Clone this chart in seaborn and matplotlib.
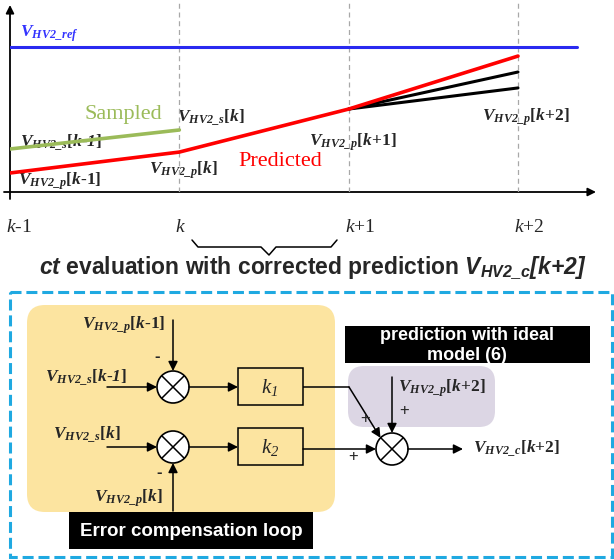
import numpy as np
import pandas as pd
import matplotlib
matplotlib.use("Agg")
import matplotlib.pyplot as plt
import seaborn as sns
from matplotlib.patches import FancyBboxPatch, Rectangle, Circle

# time steps k-1 .. k+2 and voltage trajectories (arbitrary units)
steps = [0, 1, 2, 3]
step_labels = [r'$\mathit{k}$-1', r'$\mathit{k}$', r'$\mathit{k}$+1', r'$\mathit{k}$+2']
predicted = [0.99, 2.08, 4.32, 7.08]
sampled_steps = [0, 1]
sampled = [2.24, 3.23]
alt_steps = [2, 3]
alt_upper = [4.32, 6.25]
alt_lower = [4.32, 5.42]
ref_steps = [0, 3.35]
ref_value = 7.55

sns.set_theme(style='white')
plt.rcParams['font.family'] = ['Liberation Serif', 'DejaVu Serif']
plt.rcParams['mathtext.fontset'] = 'custom'
plt.rcParams['mathtext.rm'] = 'Liberation Serif'
plt.rcParams['mathtext.it'] = 'Liberation Serif:italic'
plt.rcParams['mathtext.cal'] = 'Liberation Serif:italic'
plt.rcParams['mathtext.bf'] = 'Liberation Serif:bold'
plt.rcParams['mathtext.bfit'] = 'Liberation Serif:italic:bold'
plt.rcParams['mathtext.sf'] = 'Liberation Sans:italic:bold'

W, H = 614, 560
fig = plt.figure(figsize=(W / 100, H / 100), dpi=100)
fig.patch.set_facecolor('white')
base = fig.add_axes([0, 0, 1, 1])
base.set_xlim(0, W)
base.set_ylim(H, 0)
base.axis('off')


def vlab(sub, idx):
    # V_{HV2_x}[idx] in bold italic Times-like style
    return r'$\mathbfit{V}_{\mathbfit{HV2\_' + sub + r'}}$[' + idx + ']'


# ---------------- top chart ----------------
ax = fig.add_axes([10 / W, (H - 192) / H, 570 / W, 192 / H])
ax.patch.set_alpha(0)

for s in steps[1:]:
    ax.axvline(s, color='#A8A8A8', ls=(0, (4, 3)), lw=0.9, zorder=1)

sns.lineplot(x=ref_steps, y=[ref_value] * len(ref_steps), color='#2A2AF0', lw=2.2, ax=ax)
sns.lineplot(x=sampled_steps, y=sampled, color='#9BBB59', lw=2.6, ax=ax)
sns.lineplot(x=alt_steps, y=alt_upper, color='black', lw=2.2, ax=ax)
sns.lineplot(x=alt_steps, y=alt_lower, color='black', lw=2.2, ax=ax)
sns.lineplot(x=steps, y=predicted, color='#FF0000', lw=2.6, ax=ax)
ax.set_xlim(0, 570 * 3 / 508)
ax.set_ylim(0, 10)
ax.axis('off')

for s, lab in zip(steps, step_labels):
    ax.annotate(lab, xy=(s, 0), xycoords='data', xytext=(-4, -35), textcoords='offset pixels',
                ha='left', va='center', fontsize=14)

arrow_kw = dict(arrowstyle='-|>', color='black', lw=1.3, mutation_scale=12, shrinkA=0, shrinkB=0)
base.annotate('', xy=(10, 5), xytext=(10, 199), arrowprops=arrow_kw)
base.annotate('', xy=(596, 192), xytext=(4, 192), arrowprops=arrow_kw)

lab_kw = dict(ha='left', va='center', fontsize=12.5, fontweight='bold')
base.text(20, 34, r'$\mathbfit{V}_{\mathbfit{HV2\_ref}}$', color='#3333FF', **lab_kw)
base.text(85, 115, 'Sampled', color='#9BBB59', ha='left', va='center', fontsize=16)
base.text(238, 162, 'Predicted', color='#FF0000', ha='left', va='center', fontsize=16)
base.text(177, 118, vlab('s', r'$\mathbfit{k}$'), **lab_kw)
base.text(20, 143, vlab('s', r'$\mathbfit{k}$-$\mathbfit{1}$'), **lab_kw)
base.text(18, 181, vlab('p', r'$\mathbfit{k}$-1'), **lab_kw)
base.text(149, 170, vlab('p', r'$\mathbfit{k}$'), **lab_kw)
base.text(309, 142, vlab('p', r'$\mathbfit{k}$+1'), **lab_kw)
base.text(482, 117, vlab('p', r'$\mathbfit{k}$+2'), **lab_kw)

# brace under k .. k+1
bx = [192, 198, 261, 269, 276, 331, 337]
by = [240, 247, 247, 255, 247, 247, 240]
base.plot(bx, by, color='black', lw=1.1)

base.text(313, 268, r'$\mathsf{ct}$ evaluation with corrected prediction $\mathsf{V_{HV2\_c}[k{+}2]}$',
          family='Liberation Sans', fontweight='bold', fontsize=16.5, ha='center', va='center')

# ---------------- block diagram ----------------
base.add_patch(Rectangle((10, 292), 602, 265, fill=False, ec='#1FA9E1', lw=2.2,
                         ls=(0, (3.6, 1.6))))
base.add_patch(FancyBboxPatch((27, 305), 308, 207, boxstyle='round,pad=0,rounding_size=18',
                              fc='#FCE4A0', ec='none'))
base.add_patch(FancyBboxPatch((348, 366), 147, 61, boxstyle='round,pad=0,rounding_size=16',
                              fc='#DCD6E4', ec='none'))
base.add_patch(Rectangle((345, 326), 245, 37, fc='black', ec='none'))
base.text(467, 335, 'prediction with ideal', color='white', family='Liberation Sans',
          fontweight='bold', fontsize=13, ha='center', va='center')
base.text(467, 355, 'model (6)', color='white', family='Liberation Sans',
          fontweight='bold', fontsize=13, ha='center', va='center')
base.add_patch(Rectangle((69, 512), 244, 37, fc='black', ec='none'))
base.text(191, 531, 'Error compensation loop', color='white', family='Liberation Sans',
          fontweight='bold', fontsize=13.5, ha='center', va='center')

R = 16
junctions = [(173, 387), (173, 447), (392, 449)]
for cx, cy in junctions:
    base.add_patch(Circle((cx, cy), R, fc='white', ec='black', lw=1.2, zorder=3))
    d = R * 0.707
    base.plot([cx - d, cx + d], [cy - d, cy + d], color='black', lw=1.1, zorder=4)
    base.plot([cx - d, cx + d], [cy + d, cy - d], color='black', lw=1.1, zorder=4)

blocks = [(238, 368, r'$\mathcal{k}_{\mathcal{1}}$'), (238, 428, r'$\mathcal{k}_{\mathcal{2}}$')]
for x0, y0, lab in blocks:
    base.add_patch(Rectangle((x0, y0), 65, 37, fc='#FCE4A0', ec='black', lw=1.1, zorder=3))
    base.text(x0 + 32, y0 + 19, lab, fontsize=15, ha='center', va='center', zorder=4)

ak = dict(arrowstyle='-|>', color='black', lw=1.1, mutation_scale=14, shrinkA=0, shrinkB=0)
# junction 1 inputs
base.annotate('', xy=(173, 387 - R), xytext=(173, 320), arrowprops=ak)
base.annotate('', xy=(173 - R, 387), xytext=(107, 387), arrowprops=ak)
base.annotate('', xy=(238, 387), xytext=(173 + R, 387), arrowprops=ak)
# junction 2 inputs
base.annotate('', xy=(173 - R, 447), xytext=(107, 447), arrowprops=ak)
base.annotate('', xy=(173, 447 + R), xytext=(173, 511), arrowprops=ak)
base.annotate('', xy=(238, 447), xytext=(173 + R, 447), arrowprops=ak)
# to junction 3
base.plot([303, 349], [387, 387], color='black', lw=1.1)
base.annotate('', xy=(392 - R * 0.72, 449 - R * 0.7), xytext=(349, 387), arrowprops=ak)
base.annotate('', xy=(392, 449 - R), xytext=(392, 377), arrowprops=ak)
base.annotate('', xy=(392 - R, 449), xytext=(303, 449), arrowprops=ak)
base.annotate('', xy=(463, 449), xytext=(392 + R, 449), arrowprops=ak)

dl = dict(ha='left', va='center', fontsize=12.5, fontweight='bold')
base.text(82, 325, vlab('p', r'$\mathbfit{k}$-1'), **dl)
base.text(45, 378, vlab('s', r'$\mathbfit{k}$-$\mathbfit{1}$'), **dl)
base.text(53, 435, vlab('s', r'$\mathbfit{k}$'), **dl)
base.text(94, 498, vlab('p', r'$\mathbfit{k}$'), **dl)
base.text(398, 388, vlab('p', r'$\mathbfit{k}$+2'), **dl)
base.text(473, 449, vlab('c', r'$\mathbfit{k}$+2'), **dl)

sg = dict(family='Liberation Sans', fontsize=12, ha='center', va='center')
base.text(157, 356, '-', fontweight='bold', **sg)
base.text(159, 472, '-', fontweight='bold', **sg)
base.text(365, 419, '+', **sg)
base.text(404, 411, '+', **sg)
base.text(353, 456, '+', **sg)

fig.savefig('out.png', dpi=100, facecolor='white')
